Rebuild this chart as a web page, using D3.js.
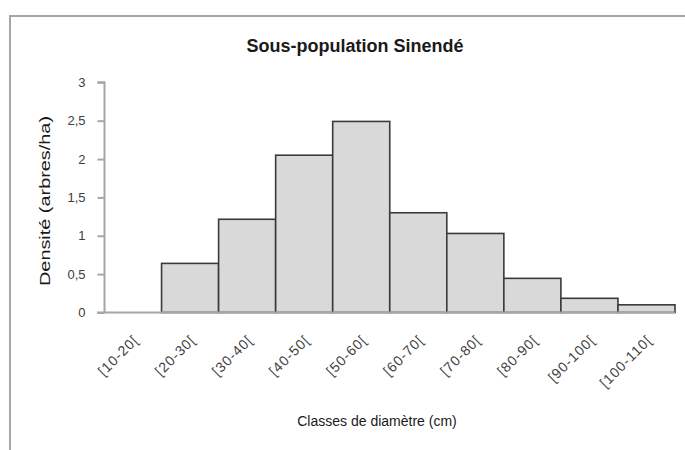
<!DOCTYPE html>
<html><head><meta charset="utf-8">
<script src="https://cdn.jsdelivr.net/npm/d3@7"></script>
<style>body{margin:0;background:#fff;} svg{display:block;}</style>
</head><body>
<svg id="chart" width="685" height="450"></svg>
<script>
const title = "Sous-population Sinendé";
const xTitle = "Classes de diamètre (cm)";
const yTitle = "Densité (arbres/ha)";
const categories = ["[10-20[","[20-30[","[30-40[","[40-50[","[50-60[","[60-70[","[70-80[","[80-90[","[90-100[","[100-110["];
const densities = [0, 0.64, 1.215, 2.05, 2.49, 1.30, 1.03, 0.445, 0.185, 0.10];
const yTicks = [0, 0.5, 1, 1.5, 2, 2.5, 3];
const yTickLabels = ["0","0,5","1","1,5","2","2,5","3"];

const svg = d3.select("#chart");
const font = "'Liberation Sans',Arial,sans-serif";
const x = d3.scaleBand().domain(categories).range([104.5, 675]).padding(0);
const y = d3.scaleLinear().domain([0, 3]).range([312.5, 82.3]);

// outer border
svg.append("rect").attr("x", 10).attr("y", 16).attr("width", 690).attr("height", 450)
  .attr("fill", "none").attr("stroke", "#a6a6a6").attr("stroke-width", 2);

// title
svg.append("text").attr("x", 355).attr("y", 52).attr("text-anchor", "middle")
  .attr("font-family", font).attr("font-weight", "bold").attr("font-size", 18)
  .attr("textLength", 217).attr("lengthAdjust", "spacingAndGlyphs")
  .attr("fill", "#1a1a1a").text(title);

// bars
svg.append("g").selectAll("rect").data(categories).join("rect")
  .attr("x", d => x(d))
  .attr("y", (d, i) => y(densities[i]))
  .attr("width", x.bandwidth())
  .attr("height", (d, i) => y(0) - y(densities[i]))
  .attr("fill", "#d9d9d9")
  .attr("stroke", (d, i) => densities[i] > 0 ? "#3a3a3a" : "none")
  .attr("stroke-width", 1.6);

// y axis
const yAxis = d3.axisLeft(y).tickValues(yTicks).tickSize(7).tickPadding(12)
  .tickFormat((d, i) => yTickLabels[i]);
const gy = svg.append("g").attr("transform", "translate(104.5,0)").call(yAxis);
gy.select(".domain").attr("stroke", "#a6a6a6").attr("stroke-width", 2).attr("d", `M-7,${y(3)}H0V${y(0)}`);
gy.selectAll(".tick line").attr("stroke", "#a6a6a6").attr("stroke-width", 2);
gy.selectAll(".tick text").attr("font-family", font).attr("font-size", 13).attr("fill", "#404040");

// x axis
const xAxis = d3.axisBottom(x).tickSize(0).tickPadding(0);
const gx = svg.append("g").attr("transform", `translate(0,${y(0)})`).call(xAxis);
gx.select(".domain").attr("stroke", "#a6a6a6").attr("stroke-width", 2).attr("d", `M97,0H675`);
gx.selectAll(".tick text")
  .attr("font-family", font).attr("font-size", 14).attr("letter-spacing", 1).attr("fill", "#404040")
  .attr("text-anchor", "end")
  .attr("transform", "translate(3,25) rotate(-45)")
  .attr("dy", "0.35em");

// axis titles
svg.append("text").attr("x", 377).attr("y", 426).attr("text-anchor", "middle")
  .attr("font-family", font).attr("font-size", 14).attr("fill", "#1a1a1a").text(xTitle);
svg.append("text").attr("transform", "translate(50,201) rotate(-90)").attr("text-anchor", "middle")
  .attr("font-family", font).attr("font-size", 15)
  .attr("textLength", 170).attr("lengthAdjust", "spacingAndGlyphs")
  .attr("fill", "#1a1a1a").text(yTitle);
</script>
</body></html>
